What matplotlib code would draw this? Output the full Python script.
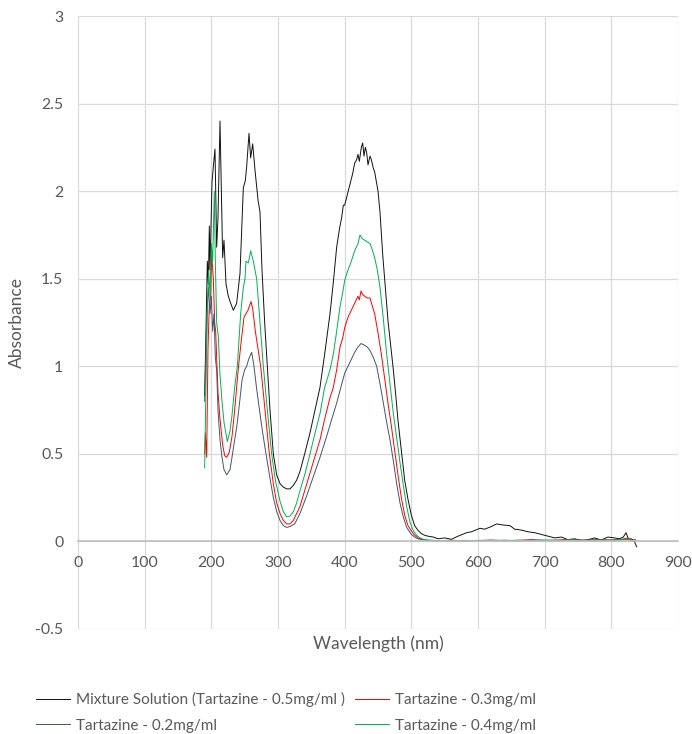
import numpy as np
import matplotlib
matplotlib.use("Agg")
import matplotlib.pyplot as plt

plt.rcParams['font.family'] = ['Lato', 'DejaVu Sans']

# Mixture solution (tartazine 0.5 mg/ml)
mix_wl = [190, 192, 194, 195.5, 197, 198, 200, 201, 203, 205.5, 207, 208, 210, 213, 215, 217, 219, 222,
          225.5, 229, 233, 238, 243, 248, 251, 253, 256.5, 259, 262, 265.5, 270, 273, 276, 280, 284, 288,
          293, 298, 303, 308, 313, 318, 323, 328, 333, 340, 348, 355, 363, 370, 378, 383, 388, 392, 395.5,
          398, 400, 404, 408, 412, 415, 418, 420, 422, 425, 427, 429, 431, 433, 435, 438, 440, 443, 445,
          450, 453, 457, 461, 465, 469, 473, 477, 480, 485, 490, 495, 500, 505, 510, 515, 520, 525, 533,
          540, 550, 560, 570, 583, 590, 603, 610, 620, 628, 635, 648, 655, 665, 675, 685, 695, 705, 715,
          725, 735, 745, 755, 765, 775, 785, 795, 805, 812, 818, 822, 826, 830, 834, 838]
mix_abs = [0.83, 1.2, 1.6, 1.47, 1.8, 1.55, 1.9, 2.05, 2.14, 2.24, 1.9, 1.68, 1.85, 2.40, 2.0, 1.62, 1.72, 1.47,
           1.40, 1.36, 1.32, 1.36, 1.53, 2.02, 2.06, 2.14, 2.33, 2.19, 2.27, 2.12, 1.95, 1.88, 1.55, 1.25, 1.0, 0.75,
           0.5, 0.38, 0.33, 0.31, 0.30, 0.30, 0.32, 0.35, 0.40, 0.50, 0.62, 0.74, 0.88, 1.07, 1.30, 1.48, 1.68, 1.78, 1.85,
           1.92, 1.92, 1.98, 2.04, 2.10, 2.16, 2.18, 2.21, 2.17, 2.25, 2.275, 2.20, 2.25, 2.22, 2.15, 2.20, 2.18, 2.13, 2.11,
           2.00, 1.88, 1.64, 1.45, 1.26, 1.12, 0.98, 0.82, 0.69, 0.52, 0.35, 0.24, 0.15, 0.09, 0.063, 0.045, 0.035, 0.03, 0.025,
           0.015, 0.02, 0.012, 0.03, 0.05, 0.055, 0.075, 0.07, 0.085, 0.1, 0.095, 0.09, 0.07, 0.065, 0.055, 0.05, 0.04, 0.03, 0.02,
           0.025, 0.01, 0.015, 0.005, 0.01, 0.02, 0.008, 0.025, 0.02, 0.015, 0.025, 0.05, 0.01, 0.015, 0.005, -0.03]

# Tartazine 0.3 mg/ml
t03_wl = [190, 191, 193, 195, 197, 199, 200.5, 203, 205, 206.5, 210, 213, 217, 220, 223, 227, 231, 235, 240, 245,
          249, 252, 255, 259.5, 262, 266, 270, 274, 280, 287, 293, 298, 303, 308, 313, 318, 323, 328, 333, 340,
          348, 355, 363, 370, 378, 383, 388, 393, 397, 400, 405, 410, 415, 420, 422, 424.5, 427, 430, 434, 438,
          441, 445, 450, 455, 460, 465, 470, 475, 480, 485, 490, 495, 500, 505, 510, 518, 525, 540, 560, 580,
          600, 620, 640, 660, 680, 700, 720, 740, 760, 780, 800, 815, 825, 832, 836]
t03_abs = [0.5, 0.62, 0.48, 1.1, 1.35, 1.4, 1.64, 1.5, 1.25, 1.2, 0.85, 0.7, 0.55, 0.49, 0.48, 0.51, 0.6, 0.75, 0.97, 1.15,
           1.28, 1.30, 1.32, 1.37, 1.33, 1.2, 1.1, 1.0, 0.77, 0.5, 0.33, 0.22, 0.16, 0.12, 0.10, 0.1, 0.12, 0.16, 0.2, 0.29,
           0.39, 0.48, 0.58, 0.7, 0.82, 0.88, 0.98, 1.11, 1.16, 1.22, 1.28, 1.32, 1.36, 1.40, 1.38, 1.43, 1.41, 1.40, 1.39, 1.39,
           1.35, 1.30, 1.19, 1.07, 0.93, 0.79, 0.66, 0.52, 0.38, 0.25, 0.15, 0.09, 0.06, 0.035, 0.02, 0.01, 0.006, 0.004, 0.007, 0.003,
           0.005, 0.008, 0.004, 0.006, 0.01, 0.005, 0.008, 0.012, 0.006, 0.01, 0.008, 0.012, 0.02, 0.005, 0.01]

# Tartazine 0.2 mg/ml
t02_wl = [190, 192, 194, 195.5, 198, 200, 202, 204, 206, 208, 210, 213, 216, 219, 223, 228, 231, 235, 238, 242,
          246, 250, 253, 256, 260.5, 264, 268, 273, 277, 282, 288, 293, 298, 303, 308, 313, 318, 325, 333, 343,
          353, 363, 373, 380, 388, 395, 400, 405, 410, 415, 420, 424.5, 430, 434, 438, 443, 448, 453, 458, 463,
          468, 473, 478, 483, 488, 493, 500, 505, 510, 518, 525, 540, 560, 580, 600, 620, 640, 660, 680, 700,
          720, 740, 760, 780, 800, 815, 825, 832, 836]
t02_abs = [0.8, 1.1, 1.35, 1.45, 1.3, 1.4, 1.2, 1.3, 1.05, 0.98, 0.75, 0.58, 0.48, 0.41, 0.38, 0.41, 0.48, 0.58, 0.65, 0.78,
           0.92, 0.98, 1.0, 1.04, 1.08, 1.0, 0.87, 0.73, 0.62, 0.5, 0.36, 0.25, 0.17, 0.12, 0.09, 0.08, 0.085, 0.10, 0.16, 0.26,
           0.37, 0.48, 0.60, 0.69, 0.79, 0.89, 0.96, 1.0, 1.04, 1.08, 1.11, 1.13, 1.12, 1.11, 1.09, 1.05, 1.0, 0.9, 0.79, 0.68,
           0.58, 0.46, 0.33, 0.22, 0.14, 0.08, 0.04, 0.025, 0.015, 0.008, 0.005, 0.003, 0.005, 0.004, 0.006, 0.005, 0.007, 0.004, 0.008, 0.006,
           0.005, 0.01, 0.007, 0.008, 0.006, 0.01, 0.012, 0.004, 0.008]

# Tartazine 0.4 mg/ml
t04_wl = [190, 192, 194, 196, 198, 200, 202, 204.5, 206, 208, 210.5, 213, 216, 219, 224, 228, 231, 235, 239, 244,
          248, 250.5, 252, 255.5, 259, 263, 268, 273, 278, 284, 290.5, 296, 303, 308, 313, 318, 323, 328, 333, 340,
          348, 355, 363, 370, 378, 383, 388, 393, 397, 400, 405, 410, 415, 420, 423, 426, 430, 434, 438, 441,
          445, 449, 453, 458, 463, 468, 473, 478, 483, 488, 493, 498, 503, 508, 513, 518, 525, 540, 560, 580,
          600, 620, 640, 660, 680, 700, 720, 740, 760, 780, 800, 815, 825, 832, 836]
t04_abs = [0.42, 0.9, 1.3, 1.55, 1.4, 1.7, 1.6, 2.0, 1.6, 1.25, 1.17, 0.95, 0.8, 0.68, 0.57, 0.63, 0.72, 0.88, 1.0, 1.3,
           1.45, 1.5, 1.6, 1.59, 1.66, 1.6, 1.5, 1.25, 1.0, 0.75, 0.5, 0.35, 0.23, 0.17, 0.14, 0.145, 0.17, 0.22, 0.29, 0.38,
           0.50, 0.61, 0.73, 0.88, 0.98, 1.07, 1.2, 1.34, 1.42, 1.49, 1.55, 1.6, 1.66, 1.70, 1.75, 1.73, 1.72, 1.71, 1.70, 1.67,
           1.62, 1.55, 1.45, 1.27, 1.07, 0.9, 0.73, 0.59, 0.45, 0.32, 0.20, 0.11, 0.06, 0.035, 0.02, 0.012, 0.008, 0.005, 0.004, 0.006,
           0.004, 0.006, 0.005, 0.007, 0.005, 0.008, 0.006, 0.009, 0.005, 0.008, 0.007, 0.01, 0.012, 0.006, 0.008]

xticks = np.arange(0, 901, 100)
yticks = np.arange(-0.5, 3.01, 0.5)
ytick_labels = ['-0.5', '0', '0.5', '1', '1.5', '2', '2.5', '3']

fig = plt.figure(figsize=(6.92, 7.34), dpi=100)
ax = fig.add_axes([78/692, 1 - 629/734, 600/692, 613/734])

l_mix, = ax.plot(mix_wl, mix_abs, color='#111111', lw=0.7, label='Mixture Solution (Tartazine - 0.5mg/ml )')
l_03, = ax.plot(t03_wl, t03_abs, color='#FF0000', lw=0.7, label='Tartazine - 0.3mg/ml')
l_02, = ax.plot(t02_wl, t02_abs, color='#44546A', lw=0.7, label='Tartazine - 0.2mg/ml')
l_04, = ax.plot(t04_wl, t04_abs, color='#00B050', lw=0.7, label='Tartazine - 0.4mg/ml')

ax.set_xlim(0, 900)
ax.set_ylim(-0.5, 3)
ax.set_xticks(xticks)
ax.set_yticks(yticks)
ax.set_xticklabels([str(v) for v in xticks])
ax.set_yticklabels(ytick_labels)
ax.grid(True, color='#D9D9D9', lw=0.9)
ax.set_axisbelow(True)
for s in ['top', 'right', 'left']:
    ax.spines[s].set_visible(False)
ax.spines['bottom'].set_position(('data', 0))
ax.spines['bottom'].set_color('#BFBFBF')
ax.spines['bottom'].set_linewidth(1.2)
ax.tick_params(length=0, labelsize=11.4, colors='#595959')
ax.tick_params(axis='x', pad=10.5)
ax.tick_params(axis='y', pad=10.5)

ax.set_xlabel('Wavelength (nm)', fontsize=12.5, color='#595959')
ax.xaxis.set_label_coords(0.5, -0.01)
ax.set_ylabel('Absorbance', fontsize=12.5, color='#595959')
ax.yaxis.set_label_coords(-0.088, 0.5)

fig.legend(handles=[l_mix, l_02, l_03, l_04], loc='upper left', bbox_to_anchor=(36/692, 1 - 692/734),
           ncol=2, frameon=False, fontsize=11, handlelength=2.2, handletextpad=0.4, columnspacing=0.7,
           labelspacing=0.75, borderpad=0, borderaxespad=0, labelcolor='#595959')

fig.savefig('out.png', dpi=100)
